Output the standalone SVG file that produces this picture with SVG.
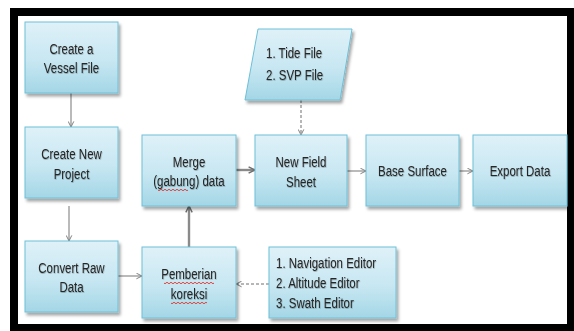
<svg xmlns="http://www.w3.org/2000/svg" width="574" height="331" viewBox="0 0 574 331">
  <defs>
    <linearGradient id="boxFill" x1="0" y1="0" x2="0" y2="1">
      <stop offset="0" stop-color="#dff1f8"/>
      <stop offset="0.55" stop-color="#c7e7f2"/>
      <stop offset="1" stop-color="#a4d6e6"/>
    </linearGradient>
    <filter id="shadow" x="-10%" y="-10%" width="125%" height="130%">
      <feDropShadow dx="2" dy="3" stdDeviation="1.5" flood-color="#000" flood-opacity="0.35"/>
    </filter>
    <filter id="txtShadow" x="-5%" y="-20%" width="115%" height="150%">
      <feDropShadow dx="0.6" dy="0.8" stdDeviation="0.4" flood-color="#000" flood-opacity="0.3"/>
    </filter>
    <marker id="open" viewBox="0 0 10 10" refX="9" refY="5" markerWidth="7" markerHeight="7" orient="auto" markerUnits="userSpaceOnUse">
      <path d="M1,1 L9,5 L1,9" fill="none" stroke="#7f7f7f" stroke-width="1.4"/>
    </marker>
    <marker id="openBold" viewBox="0 0 10 10" refX="9" refY="5" markerWidth="8" markerHeight="8" orient="auto" markerUnits="userSpaceOnUse">
      <path d="M1,1 L9,5 L1,9" fill="none" stroke="#6f6f6f" stroke-width="1.8"/>
    </marker>
  </defs>
  <style>
    .box { fill: url(#boxFill); stroke: #6cc0d8; stroke-width: 1; filter: url(#shadow); }
    .lbl { font-family: "Liberation Sans", Arial, sans-serif; font-size: 14px; fill: #262626; filter: url(#txtShadow); }
    .mid { text-anchor: middle; }
    .wire { fill: none; stroke: #8c8c8c; stroke-width: 1.2; marker-end: url(#open); }
    .thick { fill: none; stroke: #8a8a8a; stroke-width: 2.4; marker-end: url(#openBold); }
    .dash { fill: none; stroke: #6f6f6f; stroke-width: 1; stroke-dasharray: 3 2; marker-end: url(#open); }
    .spell { fill: none; stroke: #e0302a; stroke-width: 0.9; }
  </style>

  <!-- frame -->
  <rect x="10" y="8" width="564" height="323" fill="#000"/>
  <rect x="18" y="16" width="549" height="308" fill="#fff"/>

  <!-- connectors -->
  <g id="connectors">
    <path class="wire" d="M71,93 V127"/>
    <path class="wire" d="M69,206 V241"/>
    <path class="wire" d="M118,276 H142"/>
    <path class="thick" d="M189,247 V206"/>
    <path class="thick" d="M236,170 H255"/>
    <path class="wire" d="M347,171 H366"/>
    <path class="wire" d="M459,171 H473"/>
    <path class="dash" d="M301,100 V135"/>
    <path class="dash" d="M269,284 H236"/>
  </g>

  <!-- labels use a horizontally condensed sans (scaleX 0.82) -->
  <g id="vessel">
    <rect class="box" x="25" y="22" width="93" height="71"/>
    <g transform="translate(71.5,0) scale(0.82,1)">
      <text class="lbl mid" x="0" y="54">Create a</text>
      <text class="lbl mid" x="0" y="73">Vessel File</text>
    </g>
  </g>

  <g id="project">
    <rect class="box" x="25" y="127" width="93" height="71"/>
    <g transform="translate(71.5,0) scale(0.82,1)">
      <text class="lbl mid" x="0" y="159">Create New</text>
      <text class="lbl mid" x="0" y="179">Project</text>
    </g>
  </g>

  <g id="convert">
    <rect class="box" x="25" y="241" width="93" height="71"/>
    <g transform="translate(71.5,0) scale(0.82,1)">
      <text class="lbl mid" x="0" y="273">Convert Raw</text>
      <text class="lbl mid" x="0" y="292">Data</text>
    </g>
  </g>

  <g id="merge">
    <rect class="box" x="142" y="135" width="94" height="71"/>
    <g transform="translate(189,0) scale(0.82,1)">
      <text class="lbl mid" x="0" y="167">Merge</text>
      <text class="lbl mid" x="0" y="186">(gabung) data</text>
    </g>
    <path class="spell" d="M158,190 q1,1.5 2,0 t2,0 t2,0 t2,0 t2,0 t2,0 t2,0 t2,0 t2,0 t2,0 t2,0 t2,0 t2,0 t2,0 t2,0"/>
  </g>

  <g id="koreksi">
    <rect class="box" x="142" y="247" width="94" height="71"/>
    <g transform="translate(189,0) scale(0.82,1)">
      <text class="lbl mid" x="0" y="279">Pemberian</text>
      <text class="lbl mid" x="0" y="299">koreksi</text>
    </g>
    <path class="spell" d="M164,283 q1,1.5 2,0 t2,0 t2,0 t2,0 t2,0 t2,0 t2,0 t2,0 t2,0 t2,0 t2,0 t2,0 t2,0 t2,0 t2,0 t2,0 t2,0 t2,0 t2,0 t2,0 t2,0 t2,0 t2,0 t2,0 t2,0"/>
    <path class="spell" d="M171,303 q1,1.5 2,0 t2,0 t2,0 t2,0 t2,0 t2,0 t2,0 t2,0 t2,0 t2,0 t2,0 t2,0 t2,0 t2,0 t2,0 t2,0 t2,0 t2,0"/>
  </g>

  <g id="tide">
    <polygon class="box" points="258,29 352,29 340,100 245,100"/>
    <g transform="translate(266,0) scale(0.82,1)">
      <text class="lbl" x="0" y="58">1. Tide File</text>
      <text class="lbl" x="0" y="80">2. SVP File</text>
    </g>
  </g>

  <g id="fieldsheet">
    <rect class="box" x="255" y="135" width="92" height="71"/>
    <g transform="translate(301,0) scale(0.82,1)">
      <text class="lbl mid" x="0" y="167">New Field</text>
      <text class="lbl mid" x="0" y="187">Sheet</text>
    </g>
  </g>

  <g id="surface">
    <rect class="box" x="366" y="135" width="93" height="71"/>
    <g transform="translate(412.5,0) scale(0.82,1)">
      <text class="lbl mid" x="0" y="176">Base Surface</text>
    </g>
  </g>

  <g id="export">
    <rect class="box" x="473" y="135" width="94" height="71"/>
    <g transform="translate(520,0) scale(0.82,1)">
      <text class="lbl mid" x="0" y="176">Export Data</text>
    </g>
  </g>

  <g id="editors">
    <rect class="box" x="269" y="247" width="127" height="71"/>
    <g transform="translate(276,0) scale(0.82,1)">
      <text class="lbl" x="0" y="268">1. Navigation Editor</text>
      <text class="lbl" x="0" y="288">2. Altitude Editor</text>
      <text class="lbl" x="0" y="308">3. Swath Editor</text>
    </g>
  </g>
</svg>
